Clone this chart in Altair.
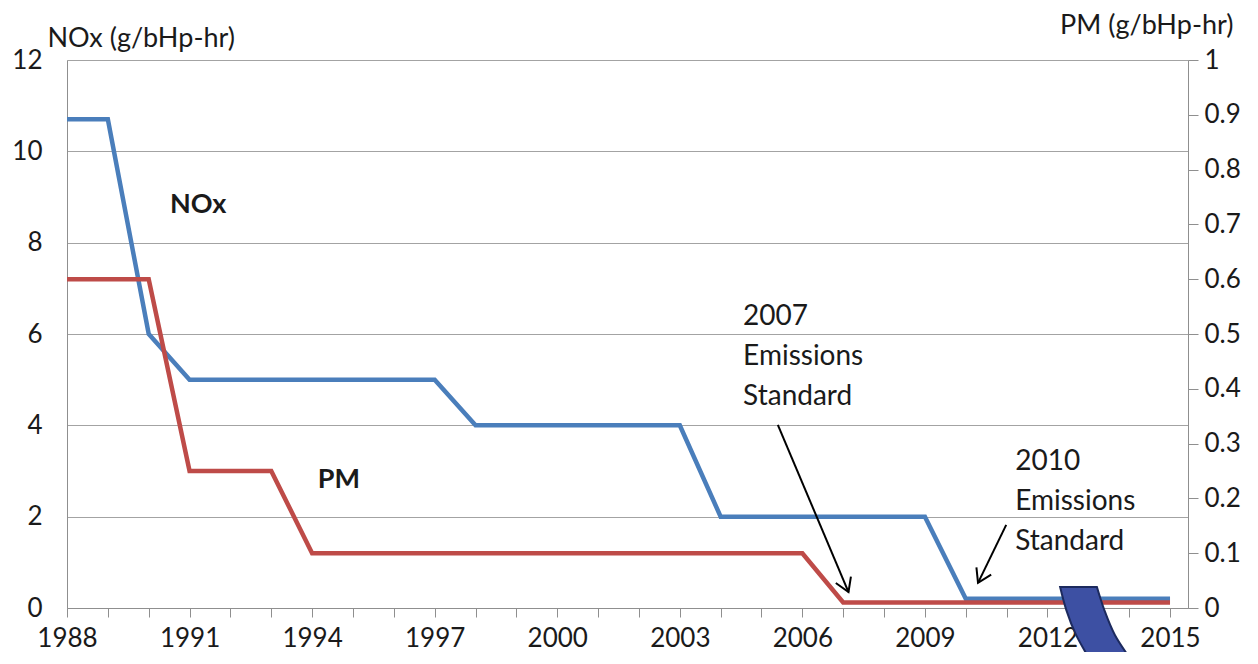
import math
import altair as alt
import pandas as pd

# ---- data ----
years = list(range(1988, 2016))
nox = [10.7, 10.7, 6.0, 5.0, 5.0, 5.0, 5.0, 5.0, 5.0, 5.0,
       4.0, 4.0, 4.0, 4.0, 4.0, 4.0,
       2.0, 2.0, 2.0, 2.0, 2.0, 2.0,
       0.2, 0.2, 0.2, 0.2, 0.2, 0.2]
pm = [0.6, 0.6, 0.6, 0.25, 0.25, 0.25,
      0.1, 0.1, 0.1, 0.1, 0.1, 0.1, 0.1, 0.1, 0.1, 0.1, 0.1, 0.1, 0.1,
      0.01, 0.01, 0.01, 0.01, 0.01, 0.01, 0.01, 0.01, 0.01]
left_ticks = [0, 2, 4, 6, 8, 10, 12]
right_ticks = [0, 0.1, 0.2, 0.3, 0.4, 0.5, 0.6, 0.7, 0.8, 0.9, 1]

# annotation labels (data coordinates on NOx scale)
labels_bold = ["NOx", "PM"]
labels_bold_x = [1990.52, 1994.14]
labels_bold_y = [8.65, 2.63]
notes_text = [["2007", "Emissions", "Standard"], ["2010", "Emissions", "Standard"]]
notes_x = [2004.55, 2011.21]
notes_y = [6.2, 3.02]
arrow_x0 = [2005.40, 2010.99]
arrow_y0 = [4.01, 1.82]
arrow_x1 = [2007.13, 2010.30]
arrow_y1 = [0.35, 0.55]

# decorative curved blue band (slide overlay) at the bottom right
band_y = [0.46, -0.04, -0.59, -1.14, -1.47]
band_xl = [2012.31, 2012.46, 2012.70, 2013.04, 2013.24]
band_xr = [2013.21, 2013.39, 2013.65, 2014.05, 2014.32]

# ---- layout ----
W, H = 1121, 548
XMIN, XMAX = 1988, 2015.44
FONT = "Lato"
GRAY = "#8f8f8f"
TXT = "#1a1a1a"

px_year = W / (XMAX - XMIN)
px_unit = H / 12.0
angles = []
for a, b, c, d in zip(arrow_x0, arrow_y0, arrow_x1, arrow_y1):
    dx = (c - a) * px_year
    dy = (b - d) * px_unit
    angles.append(math.degrees(math.atan2(dy, dx)) % 360)


def xs():
    return alt.Scale(domain=[XMIN, XMAX], nice=False, zero=False)


def xax():
    return alt.Axis(
        orient="bottom", values=years,
        labelExpr="(datum.value - 1988) % 3 == 0 ? datum.label : ''",
        grid=False, domainColor=GRAY, tickColor=GRAY, tickSize=9, labelFontSize=26,
        labelFont=FONT, labelColor=TXT, labelPadding=8, title=None, format="d",
        labelFlush=False, labelOverlap=False)


def ys():
    return alt.Scale(domain=[0, 12], nice=False, zero=True)


df = pd.DataFrame({"year": years, "nox": nox, "pm": pm})

nox_line = alt.Chart(df).mark_line(color="#4a7ebb", strokeWidth=4.5).encode(
    x=alt.X("year:Q", scale=xs(), axis=xax()),
    y=alt.Y("nox:Q", scale=ys(), axis=alt.Axis(
        orient="left", values=left_ticks, grid=True, gridColor="#a3a3a3", ticks=False,
        domainColor=GRAY, labelFontSize=26, labelFont=FONT, labelColor=TXT,
        labelPadding=25, title="NOx (g/bHp-hr)", titleAngle=0, titleX=-20, titleY=-22,
        titleAlign="left", titleBaseline="middle", titleFont=FONT, titleFontSize=27,
        titleFontWeight="normal", titleColor=TXT)),
)

pm_line = alt.Chart(df).mark_line(color="#be4b48", strokeWidth=4.5).encode(
    x=alt.X("year:Q", scale=xs(), axis=xax()),
    y=alt.Y("pm:Q", scale=alt.Scale(domain=[0, 1], nice=False, zero=True), axis=alt.Axis(
        orient="right", values=right_ticks, format=".1~f", grid=False, ticks=True,
        tickSize=10, tickColor=GRAY, domainColor=GRAY, labelFontSize=26, labelFont=FONT,
        labelColor=TXT, labelPadding=6, title="PM (g/bHp-hr)", titleAngle=0,
        titleX=45, titleY=-35, titleAlign="right", titleBaseline="middle",
        titleFont=FONT, titleFontSize=27, titleFontWeight="normal", titleColor=TXT)),
)

bold_df = pd.DataFrame({"year": labels_bold_x, "y": labels_bold_y, "t": labels_bold})
bold_txt = alt.Chart(bold_df).mark_text(
    font=FONT, fontSize=27, fontWeight="bold", align="left", baseline="alphabetic", color=TXT
).encode(x=alt.X("year:Q", scale=xs(), axis=xax()),
         y=alt.Y("y:Q", scale=ys(), axis=None), text="t:N")

notes_df = pd.DataFrame({"year": notes_x, "y": notes_y, "t": notes_text})
notes = alt.Chart(notes_df).mark_text(
    font=FONT, fontSize=28, align="left", baseline="alphabetic", lineHeight=40, color=TXT
).encode(x=alt.X("year:Q", scale=xs(), axis=xax()),
         y=alt.Y("y:Q", scale=ys(), axis=None), text="t")

arr_df = pd.DataFrame({"year": arrow_x0, "y0": arrow_y0, "x1": arrow_x1, "y1": arrow_y1,
                       "ang": angles})
shafts = alt.Chart(arr_df).mark_rule(color="black", strokeWidth=2).encode(
    x=alt.X("year:Q", scale=xs(), axis=xax()), y=alt.Y("y0:Q", scale=ys(), axis=None),
    x2="x1:Q", y2="y1:Q")
heads_df = pd.DataFrame({"year": arrow_x1, "y1": arrow_y1, "ang": angles})
heads = alt.Chart(heads_df).mark_point(
    shape="M -1 -0.62 L 0 0 L -1 0.62", filled=False, stroke="black", strokeWidth=2,
    size=700, opacity=1
).encode(x=alt.X("year:Q", scale=xs(), axis=xax()),
         y=alt.Y("y1:Q", scale=ys(), axis=None),
         angle=alt.Angle("ang:Q", scale=None))

band_df = pd.DataFrame({"y": band_y, "year": band_xl, "xr": band_xr})
band = alt.Chart(band_df).mark_area(
    orient="horizontal", color="#3d50a3", stroke="#1c2a5e", strokeWidth=2,
    interpolate="monotone", clip=False
).encode(
    y=alt.Y("y:Q", scale=ys(), axis=None),
    x=alt.X("year:Q", scale=xs(), axis=xax()), x2="xr:Q")

chart = alt.layer(nox_line, bold_txt, notes, shafts, heads, pm_line, band).resolve_scale(
    y="independent"
).properties(
    width=W, height=H,
    padding={"left": 59, "top": 52, "right": 60, "bottom": 44},
    autosize=alt.AutoSizeParams(type="none"),
).configure_view(stroke=None).configure(background="white")

chart.save("out.html", embed_options={"renderer": "svg", "actions": False})
